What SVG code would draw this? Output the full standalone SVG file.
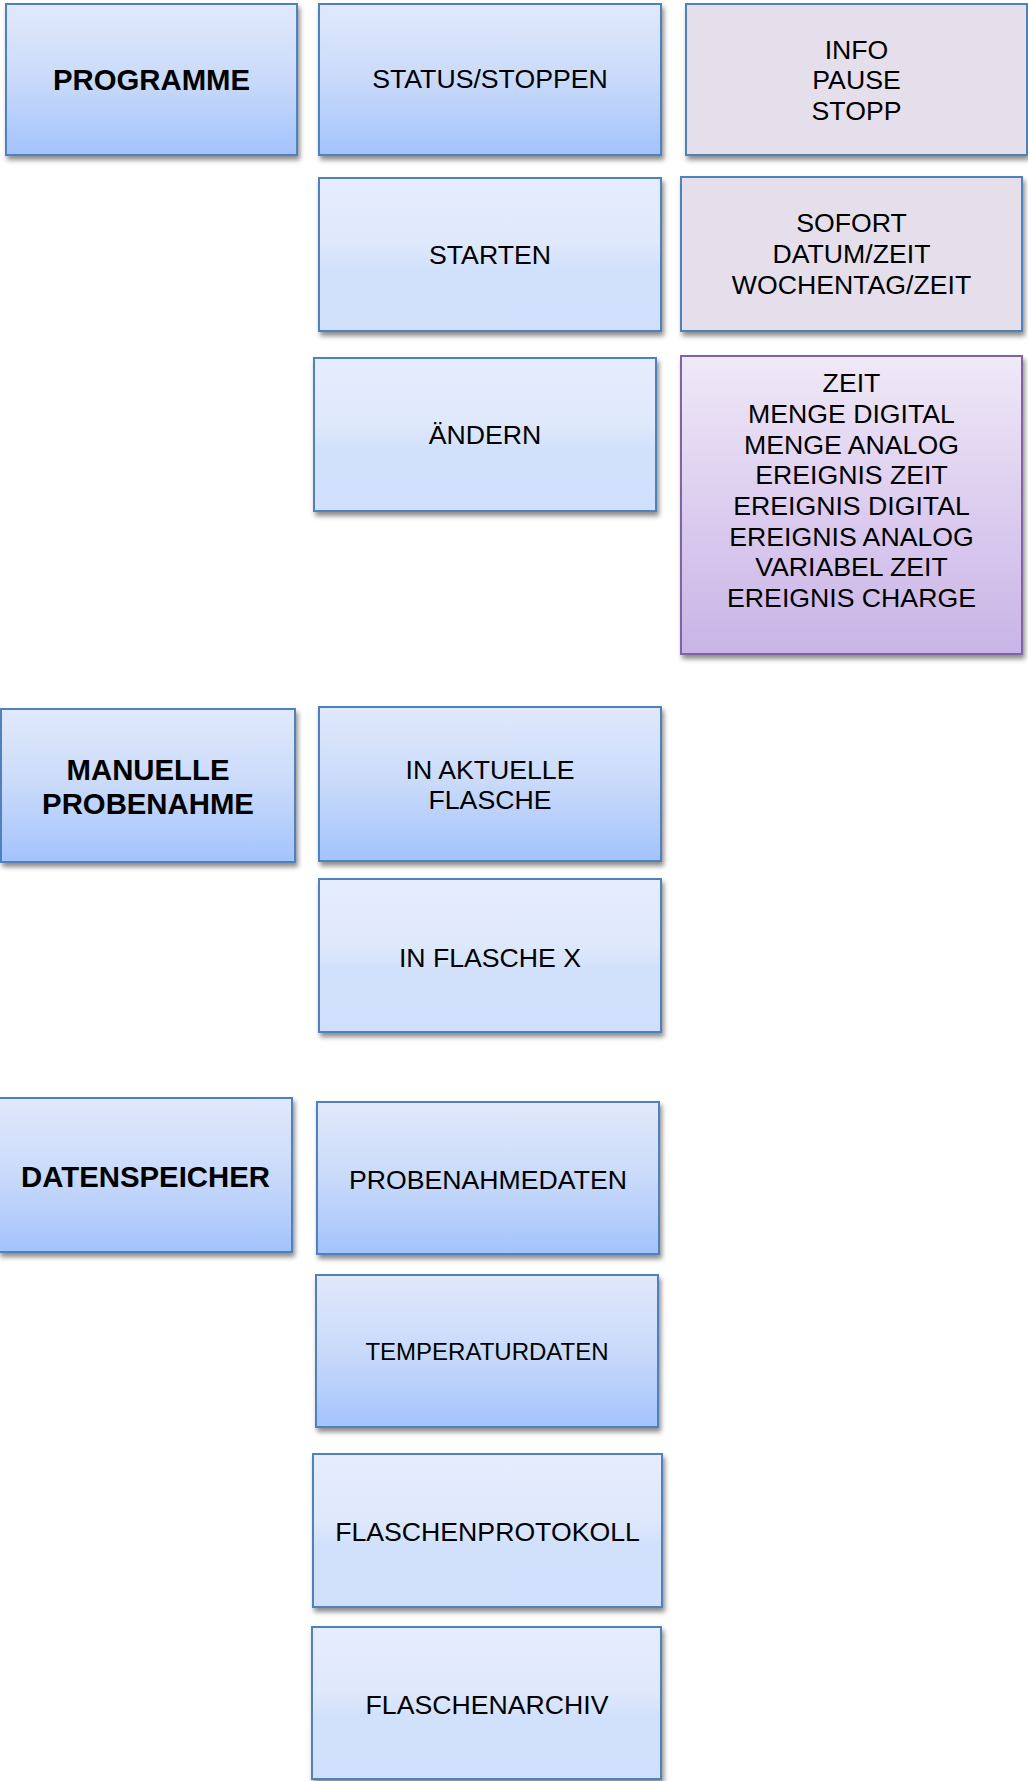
<svg xmlns="http://www.w3.org/2000/svg" width="1028" height="1781" viewBox="0 0 1028 1781">
<defs>
<linearGradient id="gA" x1="0" y1="0" x2="0" y2="1">
<stop offset="0" stop-color="#e1e9fb"/>
<stop offset="0.5" stop-color="#c9dafa"/>
<stop offset="1" stop-color="#a3c3fd"/>
</linearGradient>
<linearGradient id="gB" x1="0" y1="0" x2="0" y2="1">
<stop offset="0" stop-color="#e4ecfd"/>
<stop offset="0.42" stop-color="#e0e9fc"/>
<stop offset="0.58" stop-color="#d2e1fb"/>
<stop offset="1" stop-color="#d0dffb"/>
</linearGradient>
<linearGradient id="gP" x1="0" y1="0" x2="0" y2="1">
<stop offset="0" stop-color="#efe9f7"/>
<stop offset="0.5" stop-color="#ddcdef"/>
<stop offset="1" stop-color="#c8b4e6"/>
</linearGradient>
<filter id="sh" x="-5%" y="-5%" width="115%" height="120%">
<feDropShadow dx="2" dy="4" stdDeviation="2.5" flood-color="#000" flood-opacity="0.45"/>
</filter>
<style>
.b{stroke:#4f81bd;stroke-width:2;filter:url(#sh)}
.p{stroke:#8064a2;stroke-width:2;filter:url(#sh)}
.a{fill:url(#gA)}
.l{fill:url(#gB)}
.g{fill:#e5dfec}
.v{fill:url(#gP)}
text{font-family:"Liberation Sans",Arial,sans-serif;fill:#000;text-anchor:middle}
.t{font-size:26.67px}
.s{font-size:24px}
.h{font-size:29.33px;font-weight:bold}
</style>
</defs>
<g id="connectors"/>
<g id="n-programme"><rect class="b a" x="6" y="4" width="291" height="151"/><text class="h" x="151.5" y="89.5">PROGRAMME</text></g>
<g id="n-status"><rect class="b a" x="319" y="4" width="342" height="151"/><text class="t" x="490" y="88">STATUS/STOPPEN</text></g>
<g id="n-info"><rect class="b g" x="686" y="4" width="341" height="151"/><text class="t" x="856.5" y="58.5">INFO</text><text class="t" x="856.5" y="89">PAUSE</text><text class="t" x="856.5" y="119.7">STOPP</text></g>
<g id="n-starten"><rect class="b l" x="319" y="178" width="342" height="153"/><text class="t" x="490" y="264">STARTEN</text></g>
<g id="n-sofort"><rect class="b g" x="681" y="177" width="341" height="154"/><text class="t" x="851.5" y="232">SOFORT</text><text class="t" x="851.5" y="263">DATUM/ZEIT</text><text class="t" x="851.5" y="293.5">WOCHENTAG/ZEIT</text></g>
<g id="n-aendern"><rect class="b l" x="314" y="358" width="342" height="153"/><text class="t" x="485" y="444">ÄNDERN</text></g>
<g id="n-zeit"><rect class="p v" x="681" y="356" width="341" height="298"/>
<text class="t" x="851.5" y="392.3">ZEIT</text>
<text class="t" x="851.5" y="423">MENGE DIGITAL</text>
<text class="t" x="851.5" y="453.6">MENGE ANALOG</text>
<text class="t" x="851.5" y="484.3">EREIGNIS ZEIT</text>
<text class="t" x="851.5" y="515">EREIGNIS DIGITAL</text>
<text class="t" x="851.5" y="545.6">EREIGNIS ANALOG</text>
<text class="t" x="851.5" y="576.3">VARIABEL ZEIT</text>
<text class="t" x="851.5" y="607">EREIGNIS CHARGE</text></g>
<g id="n-manuelle"><rect class="b a" x="1" y="709" width="294" height="153"/><text class="h" x="148" y="779.5">MANUELLE</text><text class="h" x="148" y="813.5">PROBENAHME</text></g>
<g id="n-aktuelle"><rect class="b a" x="319" y="707" width="342" height="154"/><text class="t" x="490" y="778.5">IN AKTUELLE</text><text class="t" x="490" y="809">FLASCHE</text></g>
<g id="n-flaschex"><rect class="b l" x="319" y="879" width="342" height="153"/><text class="t" x="490" y="967">IN FLASCHE X</text></g>
<g id="n-datenspeicher"><rect class="b a" x="-1" y="1098" width="293" height="154"/><text class="h" x="145.5" y="1187">DATENSPEICHER</text></g>
<g id="n-probenahmedaten"><rect class="b a" x="317" y="1102" width="342" height="152"/><text class="t" x="488" y="1188.5">PROBENAHMEDATEN</text></g>
<g id="n-temperaturdaten"><rect class="b a" x="316" y="1275" width="342" height="152"/><text class="s" x="487" y="1360">TEMPERATURDATEN</text></g>
<g id="n-flaschenprotokoll"><rect class="b l" x="313" y="1454" width="349" height="153"/><text class="t" x="487.5" y="1540.5">FLASCHENPROTOKOLL</text></g>
<g id="n-flaschenarchiv"><rect class="b l" x="312" y="1627" width="349" height="152"/><text class="t" x="487" y="1713.5">FLASCHENARCHIV</text></g>
</svg>
